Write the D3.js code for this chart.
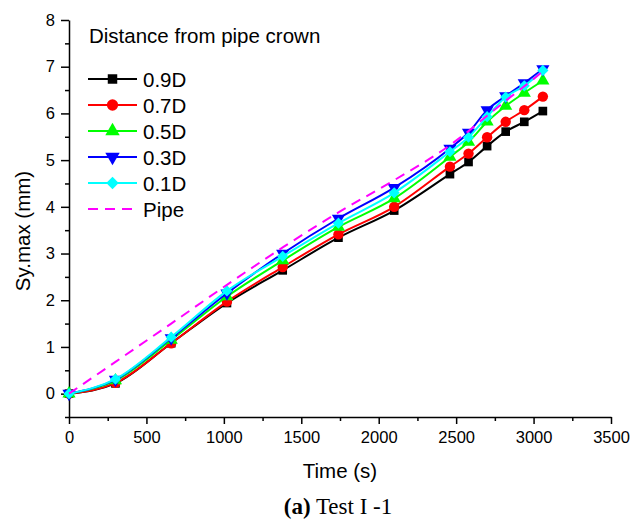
<!DOCTYPE html>
<html>
<head>
<meta charset="utf-8">
<script src="https://cdn.jsdelivr.net/npm/d3@7"></script>
<style>
  body { margin: 0; background: #fff; }
</style>
</head>
<body>
<div id="plot"></div>
<script>
// time points (s)
const times = [0, 300, 660, 1020, 1380, 1740, 2100, 2460, 2580, 2700, 2820, 2940, 3060];

// Sy.max (mm) for each distance from pipe crown
const d09 = [0, 0.22, 1.08, 1.94, 2.64, 3.34, 3.92, 4.70, 4.96, 5.30, 5.61, 5.82, 6.05];
const d07 = [0, 0.23, 1.08, 1.97, 2.71, 3.41, 4.00, 4.86, 5.14, 5.49, 5.82, 6.07, 6.36];
const d05 = [0, 0.28, 1.15, 2.08, 2.85, 3.57, 4.18, 5.07, 5.39, 5.82, 6.16, 6.44, 6.70];
const d03 = [0, 0.30, 1.19, 2.15, 3.00, 3.75, 4.41, 5.25, 5.59, 6.07, 6.37, 6.65, 6.95];
const d01 = [0, 0.31, 1.21, 2.20, 2.94, 3.65, 4.30, 5.18, 5.49, 5.93, 6.35, 6.59, 6.92];
const pipe = [0, 0.68, 1.50, 2.33, 3.13, 3.88, 4.57, 5.32, 5.62, 5.95, 6.27, 6.58, 6.90];

const seriesNames = ["0.9D", "0.7D", "0.5D", "0.3D", "0.1D", "Pipe"];
const seriesValues = [d09, d07, d05, d03, d01, pipe];

const xTicks = [0, 500, 1000, 1500, 2000, 2500, 3000, 3500];
const yTicks = [0, 1, 2, 3, 4, 5, 6, 7, 8];

const width = 641;
const height = 521;

const styles = {
    "0.9D": { color: "#000000", symbol: d3.symbolSquare, size: 75, rot: 0 },
    "0.7D": { color: "#ff0000", symbol: d3.symbolCircle, size: 85, rot: 0 },
    "0.5D": { color: "#00ff00", symbol: d3.symbolTriangle, size: 75, rot: 0 },
    "0.3D": { color: "#0000ff", symbol: d3.symbolTriangle, size: 75, rot: 180 },
    "0.1D": { color: "#00ffff", symbol: d3.symbolSquare, size: 62, rot: 45 },
    "Pipe": { color: "#ff00ff", symbol: null, dash: "10,7" }
};

const svg = d3.create("svg")
    .attr("width", width)
    .attr("height", height)
    .attr("viewBox", [0, 0, width, height])
    .style("font-family", "'Liberation Sans', Arial, sans-serif");

const x = d3.scaleLinear().domain([0, 3500]).range([69, 611]);
const y = d3.scaleLinear().domain([-0.5, 8]).range([417, 20]);

// minor ticks
svg.append("g")
    .attr("transform", `translate(0,${y(-0.5)})`)
    .call(d3.axisBottom(x).tickValues(d3.range(250, 3500, 500)).tickSize(4).tickSizeOuter(0).tickFormat(""))
    .call(g => g.select(".domain").remove())
    .selectAll("line").attr("stroke-width", 1.5);

svg.append("g")
    .attr("transform", `translate(${x(0)},0)`)
    .call(d3.axisLeft(y).tickValues(d3.range(-0.5, 8, 1)).tickSize(4).tickSizeOuter(0).tickFormat(""))
    .call(g => g.select(".domain").remove())
    .selectAll("line").attr("stroke-width", 1.5);

// x axis
svg.append("g")
    .attr("transform", `translate(0,${y(-0.5)})`)
    .call(d3.axisBottom(x).tickValues(xTicks).tickSize(7).tickSizeOuter(0).tickPadding(7).tickFormat(d3.format("d")))
    .call(g => g.select(".domain").attr("stroke-width", 1.5))
    .call(g => g.selectAll("line").attr("stroke-width", 1.5))
    .call(g => g.selectAll("text").attr("font-size", 16.5).attr("fill", "#000")
        .attr("font-family", "'Liberation Sans', Arial, sans-serif"));

// y axis
svg.append("g")
    .attr("transform", `translate(${x(0)},0)`)
    .call(d3.axisLeft(y).tickValues(yTicks).tickSize(8).tickSizeOuter(0).tickPadding(6).tickFormat(d3.format("d")))
    .call(g => g.select(".domain").attr("stroke-width", 1.5))
    .call(g => g.selectAll("line").attr("stroke-width", 1.5))
    .call(g => g.selectAll("text").attr("font-size", 16.5).attr("fill", "#000")
        .attr("font-family", "'Liberation Sans', Arial, sans-serif"));

// series
const line = d3.line()
    .x(d => x(d[0]))
    .y(d => y(d[1]))
    .curve(d3.curveMonotoneX);

seriesNames.forEach((name, i) => {
    const st = styles[name];
    const pts = times.map((t, j) => [t, seriesValues[i][j]]);
    const g = svg.append("g");
    g.append("path")
        .datum(pts)
        .attr("fill", "none")
        .attr("stroke", st.color)
        .attr("stroke-width", 2)
        .attr("stroke-dasharray", st.dash || null)
        .attr("d", line);
    if (st.symbol) {
        g.selectAll("path.m")
            .data(pts)
            .enter()
            .append("path")
            .attr("class", "m")
            .attr("fill", st.color)
            .attr("d", d3.symbol().type(st.symbol).size(st.size))
            .attr("transform", d => `translate(${x(d[0])},${y(d[1])}) rotate(${st.rot})`);
    }
});

// legend
const legend = svg.append("g");
legend.append("text")
    .attr("x", 89)
    .attr("y", 43)
    .attr("font-size", 20.5)
    .text("Distance from pipe crown");

seriesNames.forEach((name, i) => {
    const st = styles[name];
    const cy = 79 + i * 26;
    legend.append("line")
        .attr("x1", 88).attr("x2", 137)
        .attr("y1", cy).attr("y2", cy)
        .attr("stroke", st.color)
        .attr("stroke-width", 2)
        .attr("stroke-dasharray", st.dash || null);
    if (st.symbol) {
        legend.append("path")
            .attr("fill", st.color)
            .attr("d", d3.symbol().type(st.symbol).size(st.size + 15))
            .attr("transform", `translate(112.5,${cy}) rotate(${st.rot})`);
    }
    legend.append("text")
        .attr("x", 143)
        .attr("y", cy + 7.5)
        .attr("font-size", 20.5)
        .text(name);
});

// axis titles
svg.append("text")
    .attr("x", 340)
    .attr("y", 478)
    .attr("text-anchor", "middle")
    .attr("font-size", 20.5)
    .text("Time (s)");

svg.append("text")
    .attr("transform", "rotate(-90)")
    .attr("x", -231)
    .attr("y", 30)
    .attr("text-anchor", "middle")
    .attr("font-size", 20.5)
    .text("Sy.max (mm)");

// caption
const cap = svg.append("text")
    .attr("x", 338)
    .attr("y", 514)
    .attr("text-anchor", "middle")
    .attr("font-family", "'Liberation Serif', 'Times New Roman', serif")
    .attr("font-size", 23);
cap.append("tspan").attr("font-weight", "bold").text("(a)");
cap.append("tspan").text(" Test I -1");

document.getElementById("plot").appendChild(svg.node());
</script>
</body>
</html>
